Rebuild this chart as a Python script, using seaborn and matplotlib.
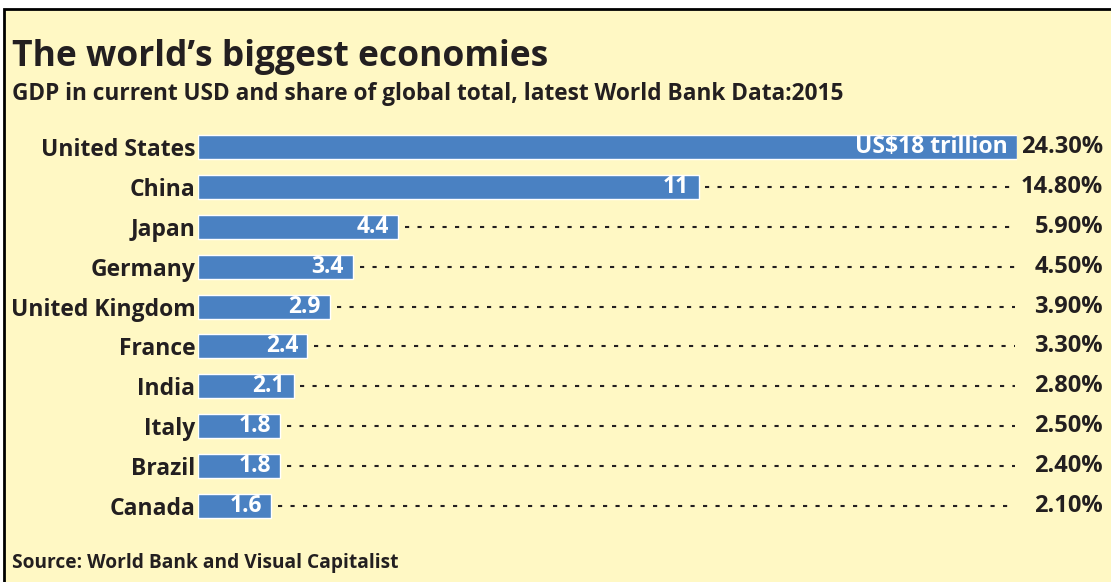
import pandas as pd
import matplotlib.pyplot as plt
import seaborn as sns
from matplotlib.patches import Rectangle

# Chart data (World Bank, 2015)
countries = ['United States', 'China', 'Japan', 'Germany', 'United Kingdom',
             'France', 'India', 'Italy', 'Brazil', 'Canada']
gdp_trillion = [18, 11, 4.4, 3.4, 2.9, 2.4, 2.1, 1.8, 1.8, 1.6]
bar_labels = ['US$18 trillion', '11', '4.4', '3.4', '2.9', '2.4', '2.1', '1.8', '1.8', '1.6']
global_share = ['24.30%', '14.80%', '5.90%', '4.50%', '3.90%',
                '3.30%', '2.80%', '2.50%', '2.40%', '2.10%']

df = pd.DataFrame({'country': countries, 'gdp': gdp_trillion,
                   'label': bar_labels, 'share': global_share})

bg = '#FFF8C4'
bar_color = '#4A81C2'
ink = '#231F20'

sns.set_style('white')
plt.rcParams['font.family'] = ['Open Sans', 'DejaVu Sans']
plt.rcParams['font.weight'] = 'bold'

fig = plt.figure(figsize=(11.11, 5.82), dpi=100)
fig.patch.set_facecolor('white')
W, H = 1111, 582

# yellow panel with black border
fig.patches.append(Rectangle((4 / W, -0.01), 1.02, 1 - 9 / H + 0.01,
                             transform=fig.transFigure, facecolor=bg,
                             edgecolor='black', linewidth=2, zorder=-5))

ax = fig.add_axes([198 / W, 1 - 526 / H, (1017 - 198) / W, (526 - 127) / H])
ax.set_facecolor('none')
ax.set_zorder(2)

sns.barplot(data=df, x='gdp', y='country', orient='h', color=bar_color,
            saturation=1, width=0.6, ax=ax)

ax.set_xlim(0, 18)
ax.set_ylim(len(countries) - 0.5, -0.5)
for s in ax.spines.values():
    s.set_visible(False)
ax.set_xticks([])
ax.set_xlabel('')
ax.set_ylabel('')
ax.tick_params(axis='y', length=0, pad=2, labelsize=16.5, labelcolor=ink)
for t in ax.get_yticklabels():
    t.set_fontweight('bold')

for i, row in df.iterrows():
    # value inside the bar
    ax.text(row['gdp'] - 0.2, i, row['label'], ha='right', va='center',
            color='white', fontsize=16.5, fontweight='bold')
    # dotted leader line
    if row['gdp'] < 17:
        ax.hlines(i, row['gdp'] + 0.15, 17.95, colors=ink,
                  linestyles=(0, (2, 4)), linewidth=1.5)
    # share of global total
    ax.text(1.105, i, row['share'], transform=ax.get_yaxis_transform(),
            ha='right', va='center', color=ink, fontsize=17,
            fontweight='bold', clip_on=False)

fig.text(12 / W, 1 - 66 / H, 'The world\u2019s biggest economies',
         fontsize=25.5, fontweight='bold', color=ink, va='baseline')
fig.text(12 / W, 1 - 100 / H,
         'GDP in current USD and share of global total, latest World Bank Data:2015',
         fontsize=16.3, fontweight='bold', color=ink, va='baseline')
fig.text(12 / W, 1 - 568 / H, 'Source: World Bank and Visual Capitalist',
         fontsize=13.8, fontweight='bold', color=ink, va='baseline')

plt.savefig('out.png', dpi=100, facecolor=fig.get_facecolor())
